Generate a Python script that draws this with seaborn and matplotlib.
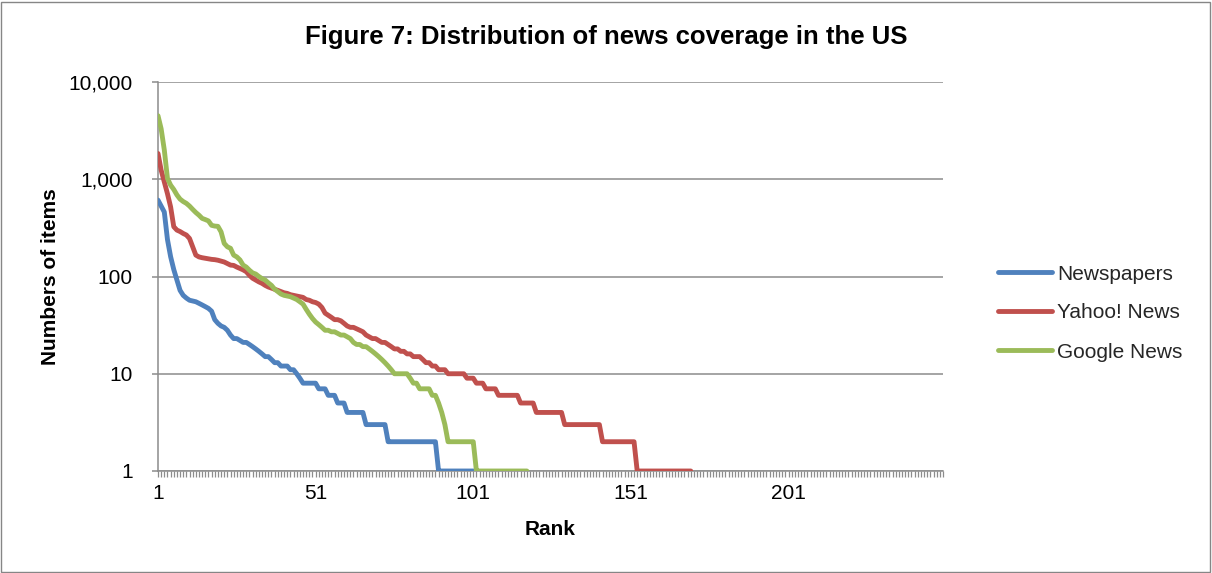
import matplotlib
matplotlib.use("Agg")
import matplotlib.pyplot as plt
from matplotlib.patches import Rectangle
from matplotlib.ticker import FixedLocator, FuncFormatter, MultipleLocator, NullLocator
import numpy as np
import pandas as pd
import seaborn as sns

# Items per source, ordered by rank (rank 1 = most items)
newspapers = [610, 530, 460, 240, 160, 118, 92, 72, 64, 60,
              57, 56, 55, 53, 51, 49, 47, 44, 36, 33,
              31, 30, 28, 25, 23, 23, 22, 21, 21, 20,
              19, 18, 17, 16, 15, 15, 14, 13, 13, 12,
              12, 12, 11, 11, 10, 9, 8, 8, 8, 8,
              8, 7, 7, 7, 6, 6, 6, 5, 5, 5,
              4, 4, 4, 4, 4, 4, 3, 3, 3, 3,
              3, 3, 3, 2, 2, 2, 2, 2, 2, 2,
              2, 2, 2, 2, 2, 2, 2, 2, 2, 1,
              1, 1, 1, 1, 1, 1, 1, 1, 1, 1, 1]

yahoo_news = [1840, 1240, 940, 710, 520, 325, 300, 290, 277, 267,
              246, 202, 166, 159, 156, 154, 152, 150, 149, 147,
              144, 141, 136, 131, 130, 125, 121, 117, 112, 103,
              96, 92, 88, 85, 81, 78, 76, 74, 72, 70,
              68, 67, 65, 64, 63, 62, 61, 58, 57, 55,
              54, 52, 48, 42, 40, 38, 36, 36, 35, 33,
              31, 30, 30, 29, 28, 27, 25, 24, 23, 23,
              22, 21, 21, 20, 19, 18, 18, 17, 17, 16,
              16, 15, 15, 15, 14, 13, 13, 12, 12, 11,
              11, 11, 10, 10, 10, 10, 10, 10, 9, 9,
              9, 8, 8, 8, 7, 7, 7, 7, 6, 6,
              6, 6, 6, 6, 6, 5, 5, 5, 5, 5,
              4, 4, 4, 4, 4, 4, 4, 4, 4, 3,
              3, 3, 3, 3, 3, 3, 3, 3, 3, 3,
              3, 2, 2, 2, 2, 2, 2, 2, 2, 2,
              2, 2, 1, 1, 1, 1, 1, 1, 1, 1,
              1, 1, 1, 1, 1, 1, 1, 1, 1, 1]

google_news = [4500, 3300, 2000, 1020, 870, 785, 690, 625, 590, 565,
               530, 490, 455, 427, 396, 385, 373, 336, 330, 328,
               288, 219, 202, 195, 166, 159, 148, 131, 125, 116,
               109, 106, 100, 95, 92, 86, 81, 74, 70, 66,
               64, 63, 62, 60, 58, 55, 52, 46, 41, 37,
               34, 32, 30, 28, 28, 27, 27, 26, 25, 25,
               24, 23, 21, 20, 20, 19, 19, 18, 17, 16,
               15, 14, 13, 12, 11, 10, 10, 10, 10, 10,
               9, 8, 8, 7, 7, 7, 7, 6, 6, 5,
               4, 3, 2, 2, 2, 2, 2, 2, 2, 2,
               2, 1, 1, 1, 1, 1, 1, 1, 1, 1,
               1, 1, 1, 1, 1, 1, 1, 1]

series_names = ["Newspapers", "Yahoo! News", "Google News"]
series_colors = ["#4F81BD", "#C0504D", "#9BBB59"]
y_ticks = [1, 10, 100, 1000, 10000]
x_ticks = [1, 51, 101, 151, 201]

frames = []
for name, vals in zip(series_names, [newspapers, yahoo_news, google_news]):
    frames.append(pd.DataFrame({"Rank": np.arange(1, len(vals) + 1),
                                "Items": vals, "Source": name}))
df = pd.concat(frames, ignore_index=True)

sns.set_theme(style="white")
plt.rcParams["font.family"] = ["Liberation Sans", "DejaVu Sans"]

W, H = 1212, 573
LW = 3.5
fig = plt.figure(figsize=(W / 100, H / 100), dpi=100)
fig.patch.set_facecolor("white")
ax = fig.add_axes([158 / W, 1 - 471 / H, (943 - 158) / W, (471 - 82) / H])

sns.lineplot(data=df, x="Rank", y="Items", hue="Source", hue_order=series_names,
             palette=dict(zip(series_names, series_colors)), linewidth=LW,
             estimator=None, sort=False, ax=ax, legend=True)
for ln in ax.lines:
    ln.set_solid_capstyle("round")
    ln.set_solid_joinstyle("round")

grid_c = "#8c8c8c"
ax.set_yscale("log")
ax.set_ylim(1, 10000)
ax.set_xlim(1, 250)
ax.yaxis.set_major_locator(FixedLocator(y_ticks))
ax.yaxis.set_major_formatter(FuncFormatter(lambda v, p: f"{int(round(v)):,}"))
ax.yaxis.set_minor_locator(NullLocator())
ax.xaxis.set_major_locator(FixedLocator(x_ticks))
ax.xaxis.set_major_formatter(FuncFormatter(lambda v, p: f"{int(round(v))}"))
ax.xaxis.set_minor_locator(MultipleLocator(1))

ax.yaxis.grid(True, color=grid_c, linewidth=1.1)
ax.xaxis.grid(False)
for side in ["top", "right"]:
    ax.spines[side].set_visible(False)
for side in ["left", "bottom"]:
    ax.spines[side].set_color(grid_c)
    ax.spines[side].set_linewidth(1.1)
    ax.spines[side].set_zorder(0.5)

ax.tick_params(axis="x", which="both", direction="out", length=4.5, width=0.9,
               color=grid_c, pad=5, labelsize=15, labelcolor="black", bottom=True)
ax.tick_params(axis="y", which="major", direction="out", length=4.3, width=1.1,
               color=grid_c, pad=14, labelsize=15, labelcolor="black", left=True)

ax.set_xlabel("Rank", fontsize=15, fontweight="bold", color="black", labelpad=12)
ax.set_ylabel("Numbers of items", fontsize=15, fontweight="bold", color="black",
              labelpad=6)

fig.text(0.5, 1 - 37 / H, "Figure 7: Distribution of news coverage in the US",
         ha="center", va="center", fontsize=18.5, fontweight="bold", color="black")

handles, labels = ax.get_legend_handles_labels()
ax.get_legend().remove()
for h in handles:
    h.set_linewidth(LW)
    h.set_solid_capstyle("round")
fig.legend(handles, labels, loc="center left",
           bbox_to_anchor=(998 / W, 1 - 313 / H), frameon=False, fontsize=15,
           handlelength=2.6, handletextpad=0.25, labelspacing=0.96,
           borderpad=0, borderaxespad=0)

fig.patches.append(Rectangle((1 / W, 1 / H), (W - 3) / W, (H - 3) / H,
                             transform=fig.transFigure, fill=False,
                             edgecolor="#868686", linewidth=1.0))

fig.savefig("out.png", dpi=100, facecolor="white")
